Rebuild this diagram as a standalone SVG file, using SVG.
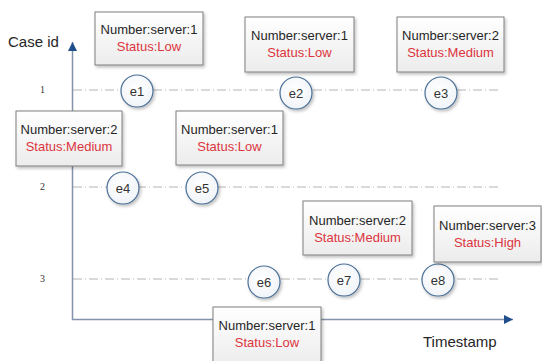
<svg xmlns="http://www.w3.org/2000/svg" width="542" height="361" viewBox="0 0 542 361">
<defs>
<linearGradient id="boxg" x1="0" y1="0" x2="0" y2="1"><stop offset="0" stop-color="#ffffff"/><stop offset="1" stop-color="#ececec"/></linearGradient>
<radialGradient id="cg" cx="0.45" cy="0.4" r="0.7"><stop offset="0" stop-color="#ffffff"/><stop offset="1" stop-color="#eef2f7"/></radialGradient>
<filter id="sh" x="-20%" y="-20%" width="140%" height="150%"><feDropShadow dx="1.5" dy="2" stdDeviation="1.5" flood-color="#000" flood-opacity="0.25"/></filter>
<marker id="ah" viewBox="0 0 10 10" refX="10" refY="5" markerWidth="10" markerHeight="9" markerUnits="userSpaceOnUse" orient="auto"><path d="M0,0 L10,5 L0,10 Z" fill="#1f4e8c"/></marker>
</defs>
<style>
.box{fill:url(#boxg);stroke:#7f7f7f;stroke-width:1;filter:url(#sh)}
.t1{font-family:"Liberation Sans",Arial,sans-serif;font-size:13px;fill:#262626;text-anchor:middle}
.t2{font-family:"Liberation Sans",Arial,sans-serif;font-size:13px;fill:#dc3540;text-anchor:middle}
.ev{fill:url(#cg);stroke:#4a6f96;stroke-width:1.2;filter:url(#sh)}
.et{font-family:"Liberation Sans",Arial,sans-serif;font-size:13px;fill:#333;text-anchor:middle}
.row{stroke:#b4b4b4;stroke-width:1;stroke-dasharray:9 3 1 3;fill:none}
.axis{stroke:#8393aa;stroke-width:1.5;fill:none}
.lab{font-family:"Liberation Sans",Arial,sans-serif;font-size:15px;fill:#262626}
.num{font-family:"Liberation Serif","Times New Roman",serif;font-size:10px;fill:#333}
</style>
<g id="connectors">
<line class="row" x1="73" y1="90" x2="498" y2="90"/>
<line class="row" x1="73" y1="187" x2="498" y2="187"/>
<line class="row" x1="73" y1="279" x2="498" y2="279"/>
<line class="axis" x1="72.5" y1="320" x2="72.5" y2="42" marker-end="url(#ah)"/>
<line class="axis" x1="72" y1="319.5" x2="513" y2="319.5" marker-end="url(#ah)"/>
</g>
<text class="lab" x="8" y="47">Case id</text>
<text class="lab" x="423" y="347">Timestamp</text>
<text class="num" x="40" y="93">1</text>
<text class="num" x="40" y="190">2</text>
<text class="num" x="40" y="282">3</text>
<g id="e1"><circle class="ev" cx="137" cy="91" r="16"/><text class="et" x="137" y="96">e1</text></g>
<g id="e2"><circle class="ev" cx="296" cy="93" r="16"/><text class="et" x="296" y="98">e2</text></g>
<g id="e3"><circle class="ev" cx="441" cy="93" r="16"/><text class="et" x="441" y="98">e3</text></g>
<g id="e4"><circle class="ev" cx="123" cy="188" r="16"/><text class="et" x="123" y="193">e4</text></g>
<g id="e5"><circle class="ev" cx="202" cy="188" r="16"/><text class="et" x="202" y="193">e5</text></g>
<g id="e6"><circle class="ev" cx="264" cy="282" r="16"/><text class="et" x="264" y="287">e6</text></g>
<g id="e7"><circle class="ev" cx="344" cy="280" r="16"/><text class="et" x="344" y="285">e7</text></g>
<g id="e8"><circle class="ev" cx="438" cy="280" r="16"/><text class="et" x="438" y="285">e8</text></g>
<g id="s1"><rect class="box" x="95" y="12" width="108" height="53"/><text class="t1" x="149" y="34">Number:server:1</text><text class="t2" x="149" y="51">Status:Low</text></g>
<g id="s2"><rect class="box" x="245" y="17" width="109" height="55"/><text class="t1" x="299.5" y="40">Number:server:1</text><text class="t2" x="299.5" y="57">Status:Low</text></g>
<g id="s3"><rect class="box" x="397" y="17" width="107" height="55"/><text class="t1" x="450.5" y="40">Number:server:2</text><text class="t2" x="450.5" y="57">Status:Medium</text></g>
<g id="s4"><rect class="box" x="16" y="111" width="106" height="55"/><text class="t1" x="69" y="134">Number:server:2</text><text class="t2" x="69" y="151">Status:Medium</text></g>
<g id="s5"><rect class="box" x="176" y="111" width="107" height="54"/><text class="t1" x="229.5" y="134">Number:server:1</text><text class="t2" x="229.5" y="151">Status:Low</text></g>
<g id="s6"><rect class="box" x="303" y="201" width="109" height="54"/><text class="t1" x="357.5" y="225">Number:server:2</text><text class="t2" x="357.5" y="242">Status:Medium</text></g>
<g id="s7"><rect class="box" x="434" y="206" width="107" height="56"/><text class="t1" x="487.5" y="230">Number:server:3</text><text class="t2" x="487.5" y="247">Status:High</text></g>
<g id="s8"><rect class="box" x="213" y="307" width="108" height="60"/><text class="t1" x="267" y="330">Number:server:1</text><text class="t2" x="267" y="347">Status:Low</text></g>
</svg>
